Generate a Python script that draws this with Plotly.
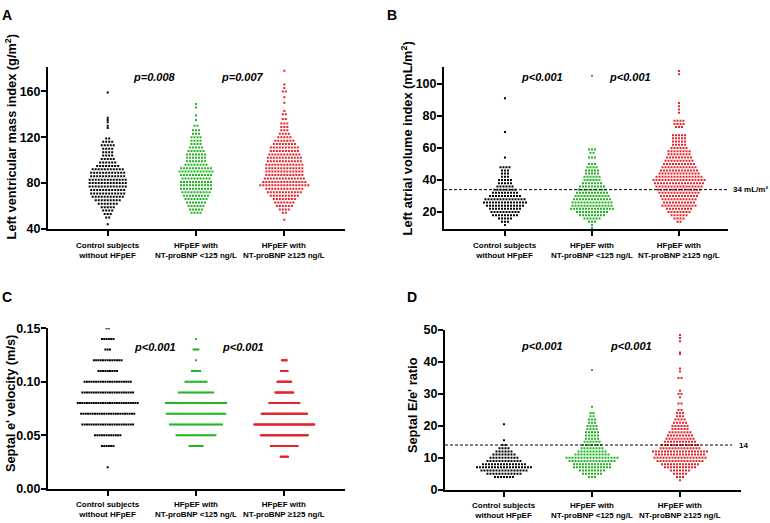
import plotly.graph_objects as go

W, H = 770, 523
FONT = "Liberation Sans"

group_labels = ["Control subjects<br>without HFpEF",
                "HFpEF with<br>NT-proBNP <125 ng/L",
                "HFpEF with<br>NT-proBNP ≥125 ng/L"]
group_colors = ["#000000", "#21b421", "#e6232b"]
categories = [0, 1, 2]

# ---------------- Panel A: Left ventricular mass index (g/m2) -------------
lvmi_ctrl_vals = [44, 50, 53, 56, 59, 62, 65, 68, 71, 74, 77, 80, 83, 86, 89, 92, 95, 98, 101, 104,
                  107, 110, 113, 116, 119, 128, 130, 133, 135, 137, 159]
lvmi_ctrl_counts = [1, 2, 3, 4, 5, 7, 9, 11, 12, 12, 13, 13, 13, 12, 12, 11, 8, 6, 5, 4,
                    4, 4, 5, 4, 2, 1, 1, 1, 1, 1, 1]
lvmi_low_vals = [54, 57, 60, 63, 66, 69, 72, 75, 78, 81, 84, 87, 90, 93, 96, 99, 102, 105, 108, 111,
                 114, 117, 120, 123, 126, 130, 135, 139, 146, 149]
lvmi_low_counts = [4, 5, 6, 7, 8, 9, 10, 11, 11, 11, 10, 11, 12, 11, 8, 7, 7, 7, 6, 5,
                   4, 4, 4, 3, 3, 2, 1, 1, 1, 1]
lvmi_high_vals = [48, 54, 57, 60, 63, 66, 69, 72, 75, 78, 81, 84, 87, 90, 93, 96, 99, 102, 105, 108,
                  111, 114, 117, 120, 123, 126, 129, 132, 136, 140, 143, 150, 155, 160, 163, 166, 178]
lvmi_high_counts = [1, 2, 4, 6, 7, 8, 10, 12, 13, 17, 15, 14, 13, 13, 13, 13, 12, 12, 11, 10,
                    10, 8, 7, 5, 4, 3, 3, 3, 2, 2, 1, 1, 1, 2, 1, 1, 1]

# ---------------- Panel B: Left atrial volume index (mL/m2) ---------------
lavi_ctrl_vals = [12, 14, 16, 18, 20, 22, 24, 26, 28, 30, 32, 34, 36, 38, 40, 42, 44, 46, 48, 54, 70, 91]
lavi_ctrl_counts = [1, 3, 5, 9, 10, 11, 13, 15, 14, 11, 9, 8, 6, 5, 5, 3, 3, 3, 4, 1, 1, 1]
lavi_low_vals = [10, 12, 14, 16, 18, 20, 22, 24, 26, 28, 30, 32, 34, 36, 38, 40, 42, 44, 46, 48,
                 50, 54, 57, 59, 105]
lavi_low_counts = [1, 1, 3, 6, 9, 11, 15, 14, 14, 13, 12, 11, 10, 9, 7, 6, 6, 5, 5, 4,
                   3, 3, 2, 3, 1]
lavi_high_vals = [14, 16, 18, 20, 22, 24, 26, 28, 30, 32, 34, 36, 38, 40, 42, 44, 46, 48, 50, 52,
                  54, 56, 58, 60, 62, 64, 66, 68, 73, 75, 77, 82, 84, 86, 88, 106, 108]
lavi_high_counts = [2, 4, 6, 8, 9, 12, 11, 12, 13, 14, 15, 16, 17, 18, 16, 14, 13, 12, 11, 10,
                    9, 8, 8, 6, 5, 5, 5, 5, 3, 4, 4, 1, 1, 1, 1, 1, 1]
lavi_cutoff = 34

# ---------------- Panel C: Septal e' velocity (m/s) -----------------------
e_ctrl_vals = [0.02, 0.04, 0.05, 0.06, 0.07, 0.08, 0.09, 0.10, 0.11, 0.12, 0.13, 0.14, 0.15]
e_ctrl_counts = [1, 6, 12, 23, 24, 27, 23, 21, 9, 13, 3, 6, 2]
e_low_vals = [0.04, 0.05, 0.06, 0.07, 0.08, 0.09, 0.10, 0.11, 0.12, 0.13, 0.14]
e_low_counts = [9, 25, 33, 37, 38, 22, 14, 6, 1, 4, 1]
e_high_vals = [0.03, 0.04, 0.05, 0.06, 0.07, 0.08, 0.09, 0.10, 0.11, 0.12]
e_high_counts = [10, 34, 59, 75, 57, 38, 23, 18, 9, 7]

# ---------------- Panel D: Septal E/e' ratio ------------------------------
ee_ctrl_vals = [4, 5, 6, 7, 8, 9, 10, 11, 12, 13, 14, 15.5, 20.5]
ee_ctrl_counts = [7, 12, 16, 19, 15, 12, 10, 8, 6, 4, 2, 1, 1]
ee_low_vals = [4, 5, 6, 7, 8, 9, 10, 11, 12, 13, 14, 15, 16, 17, 18, 19, 20, 21, 22, 23, 24, 26, 37.5]
ee_low_counts = [3, 7, 9, 13, 13, 16, 18, 12, 10, 8, 7, 6, 5, 5, 5, 4, 4, 3, 3, 2, 2, 1, 1]
ee_high_vals = [3, 4, 5, 6, 7, 8, 9, 10, 11, 12, 13, 14, 15, 16, 17, 18, 19, 20, 21, 22,
                23, 24, 25, 27, 29, 30, 31, 35, 37, 38, 42.5, 43, 46.5, 47.5, 48.5]
ee_high_counts = [1, 3, 5, 7, 11, 13, 16, 18, 17, 19, 14, 13, 11, 10, 9, 8, 6, 6, 5, 4,
                  3, 3, 2, 2, 1, 2, 1, 2, 1, 1, 1, 1, 1, 1, 1]
ee_cutoff = 14

p_text_A = ["p=0.008", "p=0.007"]
p_text_B = ["p<0.001", "p<0.001"]
p_text_C = ["p<0.001", "p<0.001"]
p_text_D = ["p<0.001", "p<0.001"]


def X(px):
    return px / W


def Y(py):
    return 1 - py / H


# panel geometry (pixels): x0, x1, ytop, ybottom, x range, y range
panels = [
    dict(name="A", box=(48, 345, 62, 228), xr=[-0.676, 2.687], yr=[40, 181], tick=[40, 80, 120, 160],
         ttext=["40", "80", "120", "160"],
         title="Left ventricular mass index (g/m<sup>2</sup>)", title_xy=(11, 133),
         letter_xy=(7, 8), data=[(lvmi_ctrl_vals, lvmi_ctrl_counts), (lvmi_low_vals, lvmi_low_counts),
                                  (lvmi_high_vals, lvmi_high_counts)],
         p=p_text_A, p_x=[0.53, 1.53], p_y=72),
    dict(name="B", box=(444, 728, 62, 228), xr=[-0.701, 2.563], yr=[9.5, 110.3], tick=[20, 40, 60, 80, 100],
         ttext=["20", "40", "60", "80", "100"],
         title="Left atrial volume index (mL/m<sup>2</sup>)", title_xy=(407, 135),
         letter_xy=(392, 8), data=[(lavi_ctrl_vals, lavi_ctrl_counts), (lavi_low_vals, lavi_low_counts),
                                    (lavi_high_vals, lavi_high_counts)],
         p=p_text_B, p_x=[0.43, 1.44], p_y=72),
    dict(name="C", box=(48, 345, 330, 495), xr=[-0.676, 2.687], yr=[0, 0.15], tick=[0, 0.05, 0.10, 0.15],
         ttext=["0.00", "0.05", "0.10", "0.15"],
         title="Septal e' velocity (m/s)", title_xy=(10, 408),
         letter_xy=(7, 298), data=[(e_ctrl_vals, e_ctrl_counts), (e_low_vals, e_low_counts),
                                    (e_high_vals, e_high_counts)],
         p=p_text_C, p_x=[0.53, 1.53], p_y=349),
    dict(name="D", box=(445, 741, 332, 496), xr=[-0.67, 2.693], yr=[0, 50], tick=[0, 10, 20, 30, 40, 50],
         ttext=["0", "10", "20", "30", "40", "50"],
         title="Septal E/e' ratio", title_xy=(412, 409),
         letter_xy=(412, 298), data=[(ee_ctrl_vals, ee_ctrl_counts), (ee_low_vals, ee_low_counts),
                                      (ee_high_vals, ee_high_counts)],
         p=p_text_D, p_x=[0.43, 1.44], p_y=348),
]


def swarm(vals, counts, center, step, maxw):
    """Row-based swarm layout (GraphPad style): points of a row spread side by side."""
    maxc = max(counts)
    s = step if maxc <= 1 else min(step, maxw / (maxc - 1))
    xs, ys = [], []
    for v, c in zip(vals, counts):
        for i in range(c):
            xs.append(center + s * (i - (c - 1) / 2))
            ys.append(v)
    return xs, ys


fig = go.Figure()
annotations = []
shapes = []
layout_axes = {}

for k, p in enumerate(panels):
    sfx = "" if k == 0 else str(k + 1)
    x0, x1, yt, yb = p["box"]
    unit_px = (x1 - x0) / (p["xr"][1] - p["xr"][0])
    step = 3.0 / unit_px
    maxw = 60.0 / unit_px
    for g, (vals, counts) in enumerate(p["data"]):
        xs, ys = swarm(vals, counts, categories[g], step, maxw)
        fig.add_trace(go.Scatter(x=xs, y=ys, mode="markers", xaxis="x" + sfx, yaxis="y" + sfx,
                                 marker=dict(color=group_colors[g], size=2.0, symbol="square",
                                             line=dict(width=0)),
                                 showlegend=False, hoverinfo="y"))
    layout_axes["xaxis" + sfx] = dict(domain=[X(x0), X(x1)], range=p["xr"], anchor="y" + sfx,
                                      showgrid=False, zeroline=False, showline=True, linecolor="black",
                                      linewidth=2, ticks="outside", ticklen=5, tickwidth=2,
                                      tickcolor="black", tickvals=categories, showticklabels=False,
                                      fixedrange=True)
    layout_axes["yaxis" + sfx] = dict(domain=[Y(yb), Y(yt)], range=p["yr"], anchor="x" + sfx,
                                      showgrid=False, zeroline=False, showline=True, linecolor="black",
                                      linewidth=2, ticks="outside", ticklen=5, tickwidth=2,
                                      tickcolor="black", tickvals=p["tick"], ticktext=p["ttext"],
                                      ticklabelstandoff=-2,
                                      tickfont=dict(family=FONT, size=12.5, color="black", weight="bold"),
                                      fixedrange=True)
    # category labels
    for g in range(3):
        annotations.append(dict(x=categories[g], xref="x" + sfx, y=Y(yb + 10), yref="paper",
                                text=group_labels[g], showarrow=False, xanchor="center", yanchor="top",
                                font=dict(family=FONT, size=8, color="black", weight="bold")))
    # axis title
    tx, ty = p["title_xy"]
    annotations.append(dict(x=X(tx), y=Y(ty), xref="paper", yref="paper", text=p["title"],
                            textangle=-90, showarrow=False, xanchor="center", yanchor="middle",
                            font=dict(family=FONT, size=12.8, color="black", weight="bold")))
    # panel letter
    lx, ly = p["letter_xy"]
    annotations.append(dict(x=X(lx), y=Y(ly), xref="paper", yref="paper", text=p["name"],
                            showarrow=False, xanchor="center", yanchor="middle",
                            font=dict(family=FONT, size=14, color="black", weight="bold")))
    # p-values
    for j in range(2):
        annotations.append(dict(x=p["p_x"][j], xref="x" + sfx, y=Y(p["p_y"]), yref="paper",
                                text="<i>" + p["p"][j] + "</i>", showarrow=False,
                                xanchor="center", yanchor="middle",
                                font=dict(family=FONT, size=11, color="black", weight="bold")))

# cut-off lines
shapes.append(dict(type="line", xref="x2 domain", yref="y2", x0=0, x1=1, y0=lavi_cutoff, y1=lavi_cutoff,
                   line=dict(color="black", width=1, dash="3px,2px")))
annotations.append(dict(x=X(731), xref="paper", y=lavi_cutoff, yref="y2", text="34 mL/m²",
                        showarrow=False, xanchor="left", yanchor="middle",
                        font=dict(family=FONT, size=8, color="black", weight="bold")))
shapes.append(dict(type="line", xref="x4 domain", yref="y4", x0=0, x1=0.97, y0=ee_cutoff, y1=ee_cutoff,
                   line=dict(color="black", width=1, dash="3px,2px")))
annotations.append(dict(x=X(737), xref="paper", y=ee_cutoff, yref="y4", text="14",
                        showarrow=False, xanchor="left", yanchor="middle",
                        font=dict(family=FONT, size=8, color="black", weight="bold")))

fig.update_layout(width=W, height=H, margin=dict(l=0, r=0, t=0, b=0),
                  paper_bgcolor="white", plot_bgcolor="white",
                  annotations=annotations, shapes=shapes, **layout_axes)

fig.write_html("out.html", config={"displayModeBar": False},
               post_script="document.body.style.margin='0';document.body.style.overflow='hidden';")
